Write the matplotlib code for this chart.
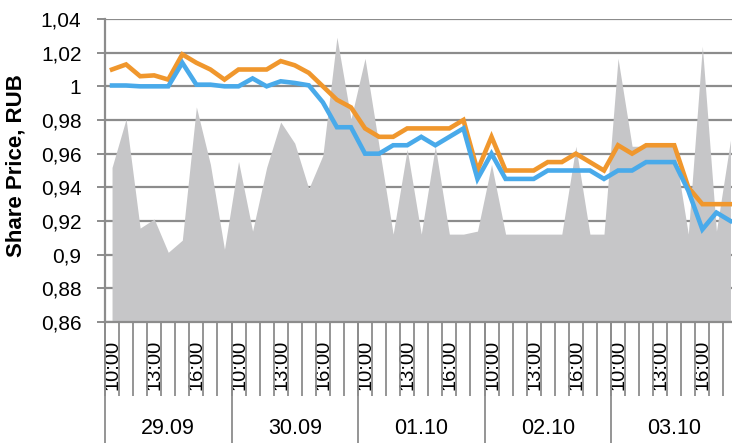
import numpy as np
import matplotlib
matplotlib.use('Agg')
import matplotlib.pyplot as plt
from matplotlib.transforms import Affine2D, blended_transform_factory

plt.rcParams['font.family'] = ['Liberation Sans', 'DejaVu Sans']

# ---- data ----
days = ['29.09', '30.09', '01.10', '02.10', '03.10']
hours = ['10:00', '11:00', '12:00', '13:00', '14:00', '15:00', '16:00', '17:00', '18:00']
shown_hours = ['10:00', '13:00', '16:00']

price_orange = [
    1.010, 1.013, 1.006, 1.0065, 1.004, 1.019, 1.014, 1.010, 1.004,
    1.010, 1.010, 1.010, 1.015, 1.0125, 1.008, 1.000, 0.992, 0.9875,
    0.975, 0.970, 0.970, 0.975, 0.975, 0.975, 0.975, 0.980, 0.950,
    0.970, 0.950, 0.950, 0.950, 0.955, 0.955, 0.960, 0.955, 0.950,
    0.965, 0.960, 0.965, 0.965, 0.965, 0.940, 0.930, 0.930, 0.930,
]
price_blue = [
    1.0005, 1.0005, 1.000, 1.000, 1.000, 1.014, 1.001, 1.001, 1.000,
    1.000, 1.0047, 1.000, 1.003, 1.002, 1.0006, 0.9905, 0.9757, 0.9757,
    0.960, 0.960, 0.965, 0.965, 0.970, 0.965, 0.970, 0.975, 0.945,
    0.960, 0.945, 0.945, 0.945, 0.950, 0.950, 0.950, 0.950, 0.945,
    0.950, 0.950, 0.955, 0.955, 0.955, 0.938, 0.915, 0.925, 0.920,
]
# trading volume, relative units (secondary scale, 0-100, not shown)
volume = [
    51, 67, 31, 34, 23, 27, 71, 52, 24,
    53, 30, 51, 66, 59, 44, 55, 94, 67,
    87, 58, 29, 57, 29, 58, 29, 29, 30,
    52, 29, 29, 29, 29, 29, 58, 29, 29,
    87, 58, 58, 58, 58, 29, 91, 30, 60,
]

y_ticks = [0.86, 0.88, 0.90, 0.92, 0.94, 0.96, 0.98, 1.00, 1.02, 1.04]
y_tick_labels = ['0,86', '0,88', '0,9', '0,92', '0,94', '0,96', '0,98', '1', '1,02', '1,04']

GRID = '#8c8c8c'
ORANGE = '#f0972d'
BLUE = '#49aaea'
AREA = '#c6c6c8'

W, H = 732, 443
fig = plt.figure(figsize=(W / 100, H / 100), dpi=100)
# plot area: x 105..737 px (runs past the right edge), y 19..322 px
ax = fig.add_axes([105 / W, (H - 322) / H, 632.5 / W, 303 / H])

n = len(days) * len(hours)
x = np.arange(n)

# volume area on a hidden 0-100 scale mapped to axes height
vol_trans = blended_transform_factory(ax.transData, Affine2D().scale(1, 0.01) + ax.transAxes)
ax.fill_between(x, 0, volume, color=AREA, lw=0, transform=vol_trans, zorder=1)

ax.plot(x, price_orange, color=ORANGE, lw=3.3, zorder=3, solid_joinstyle='miter')
ax.plot(x, price_blue, color=BLUE, lw=3.3, zorder=4, solid_joinstyle='miter')

ax.set_xlim(-0.5, n - 0.5)
ax.set_ylim(0.86, 1.04)

# y axis
ax.set_yticks(y_ticks, y_tick_labels, fontsize=15)
ax.tick_params(axis='y', direction='out', length=6, width=1.4, color=GRID, pad=11)
ax.grid(axis='y', color=GRID, lw=1.6)
ax.set_axisbelow(True)
for s in ['top', 'right']:
    ax.spines[s].set_visible(False)
for s in ['left', 'bottom']:
    ax.spines[s].set_color(GRID)
    ax.spines[s].set_linewidth(1.6)

# x axis: hour labels at category centres
labels = [h if h in shown_hours else '' for _ in days for h in hours]
ax.set_xticks(x, labels, rotation=90, fontsize=14.5)
ax.tick_params(axis='x', which='major', length=0, pad=13)
# category boundary ticks
ax.set_xticks(np.arange(-0.5, n, 1), minor=True)
ax.tick_params(axis='x', which='minor', direction='out', length=53, width=1.3, color=GRID)

# day boundaries run down to the bottom
sec = ax.secondary_xaxis('bottom')
sec.set_xticks(np.arange(-0.5, n + 1, len(hours)), [''] * (len(days) + 1))
sec.tick_params(axis='x', direction='out', length=90, width=1.3, color=GRID)
sec.spines['bottom'].set_visible(False)

# day labels
day_trans = blended_transform_factory(ax.transData, ax.transAxes)
for i, d in enumerate(days):
    ax.text(i * len(hours) + (len(hours) - 1) / 2, -0.35, d, transform=day_trans,
            ha='center', va='center', fontsize=15.5)

fig.text(16 / W, 1 - 166 / H, 'Share Price, RUB', rotation=90, ha='center', va='center',
         fontsize=16, fontweight='bold')

fig.savefig('out.png', dpi=100)
